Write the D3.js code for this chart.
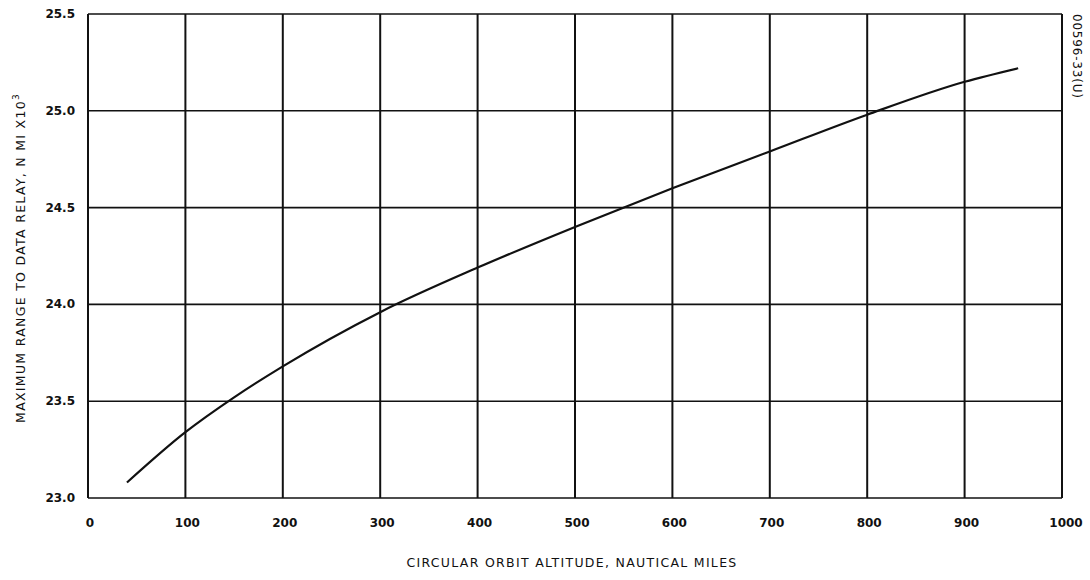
<!DOCTYPE html>
<html lang="en">
<head>
<meta charset="utf-8">
<title>Maximum range to data relay vs orbit altitude</title>
<script src="https://cdn.jsdelivr.net/npm/d3@7"></script>
<style>
    body { margin: 0; background: #fff; }
    svg { display: block; }
    .tick-label { font-family: "DejaVu Sans", sans-serif; font-size: 12px; font-weight: bold; fill: #111; }
    .axis-title { font-family: "DejaVu Sans", sans-serif; font-size: 12.5px; letter-spacing: 1.3px; fill: #111; }
    .code-label { font-family: "DejaVu Sans", sans-serif; font-size: 12px; letter-spacing: 0.8px; fill: #111; }
</style>
</head>
<body>
<script>
// values
var altitude = [40, 100, 150, 200, 300, 400, 500, 600, 700, 800, 900, 955];
var range = [23.08, 23.34, 23.52, 23.68, 23.96, 24.19, 24.40, 24.60, 24.79, 24.98, 25.15, 25.22];
var xTicks = [0, 100, 200, 300, 400, 500, 600, 700, 800, 900, 1000];
var yTicks = [23.0, 23.5, 24.0, 24.5, 25.0, 25.5];

var w = 1090, h = 580;
var plotLeft = 88, plotRight = 1062, plotTop = 14, plotBottom = 498;

var svg = d3.select("body").append("svg")
    .attr("width", w)
    .attr("height", h);

var xScale = d3.scaleLinear().domain([0, 1000]).range([plotLeft, plotRight]);
var yScale = d3.scaleLinear().domain([23.0, 25.5]).range([plotBottom, plotTop]);

// grid
svg.selectAll(".vgrid").data(xTicks).enter().append("line")
    .attr("x1", d => xScale(d)).attr("x2", d => xScale(d))
    .attr("y1", plotTop).attr("y2", plotBottom)
    .attr("stroke", "#111").attr("stroke-width", 2);

svg.selectAll(".hgrid").data(yTicks).enter().append("line")
    .attr("x1", plotLeft).attr("x2", plotRight)
    .attr("y1", d => yScale(d)).attr("y2", d => yScale(d))
    .attr("stroke", "#111").attr("stroke-width", 1.6);

// tick labels
svg.selectAll(".xl").data(xTicks).enter().append("text")
    .attr("class", "tick-label")
    .attr("x", d => xScale(d) + (d == 1000 ? 4 : 2))
    .attr("y", 527)
    .attr("text-anchor", "middle")
    .text(d => d);

svg.selectAll(".yl").data(yTicks).enter().append("text")
    .attr("class", "tick-label")
    .attr("x", 75)
    .attr("y", d => yScale(d) + 4)
    .attr("text-anchor", "end")
    .text(d => d.toFixed(1));

// curve
var line = d3.line()
    .x((d, i) => xScale(altitude[i]))
    .y(d => yScale(d))
    .curve(d3.curveMonotoneX);

svg.append("path")
    .datum(range)
    .attr("d", line)
    .attr("fill", "none")
    .attr("stroke", "#111")
    .attr("stroke-width", 2.2);

// axis titles
svg.append("text")
    .attr("class", "axis-title")
    .attr("x", 572).attr("y", 567)
    .attr("text-anchor", "middle")
    .text("CIRCULAR ORBIT ALTITUDE, NAUTICAL MILES");

var yt = svg.append("text")
    .attr("class", "axis-title")
    .attr("transform", "translate(25,258) rotate(-90)")
    .attr("text-anchor", "middle");
yt.append("tspan").text("MAXIMUM RANGE TO DATA RELAY, N MI X10");
yt.append("tspan").attr("dy", -6).attr("font-size", "9px").text("3");

svg.append("text")
    .attr("class", "code-label")
    .attr("transform", "translate(1073,14) rotate(90)")
    .attr("text-anchor", "start")
    .text("00596-33(U)");
</script>
</body>
</html>
